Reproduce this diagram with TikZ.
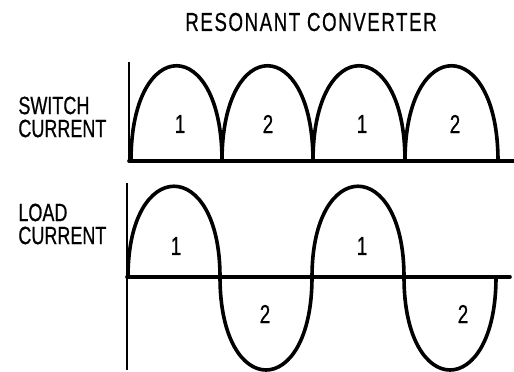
\documentclass[tikz,border=0pt]{standalone}
\usepackage{fontspec}
\setmainfont{Liberation Sans}[FakeStretch=0.72, FakeBold=0.6]
\newfontfamily\titlefont{Liberation Sans}[FakeStretch=0.72, FakeBold=0.6, LetterSpace=6]
\usetikzlibrary{positioning}
\tikzstyle{axis} = [draw, line width=1.1pt]
\tikzstyle{wave} = [draw, line width=1.8pt, line join=round, line cap=round]
\tikzstyle{sidetext} = [font=\fontsize{12.5}{11.5}\selectfont, align=left, inner sep=0pt, anchor=west]
\tikzstyle{titletext} = [font=\titlefont\fontsize{13}{12}\selectfont, inner sep=0pt]
\tikzstyle{lobe} = [font=\fontsize{13}{12}\selectfont, inner sep=0pt]

\begin{document}
\begin{tikzpicture}[x=0.5pt, y=-0.5pt]
        \useasboundingbox (0,0) rectangle (514,371);
        \node[titletext]                  (title) at (311,22)  {RESONANT CONVERTER};
        \node[sidetext]                   (swlbl) at (18,117)  {SWITCH\\CURRENT};
        \node[sidetext]                   (ldlbl) at (18,224)  {LOAD\\CURRENT};

        % switch current
        \draw[axis] (129,62) -- (129,162);
        \draw[wave] (129,161) -- (514,161);
        \foreach \a/\b in {131/222, 222/313, 313/405, 405/498}
          \draw[wave] (\a,161) .. controls (\a,34) and (\b,34) .. (\b,161);
        \node[lobe] (sw1) at (180,124) {1};
        \node[lobe] (sw2) at (268,124) {2};
        \node[lobe] (sw3) at (362,124) {1};
        \node[lobe] (sw4) at (455,124) {2};

        % load current
        \draw[axis] (127,183) -- (127,370);
        \draw[wave] (127,277) -- (510,277);
        \draw[wave] (128,277) .. controls (128,156) and (220,156) .. (220,277)
                              .. controls (220,401) and (312,401) .. (312,277)
                              .. controls (312,156) and (404,156) .. (404,277)
                              .. controls (404,401) and (496,401) .. (496,277);
        \node[lobe] (ld1) at (176,246) {1};
        \node[lobe] (ld2) at (265,314) {2};
        \node[lobe] (ld3) at (362,246) {1};
        \node[lobe] (ld4) at (463,314) {2};
      \end{tikzpicture}
\end{document}
